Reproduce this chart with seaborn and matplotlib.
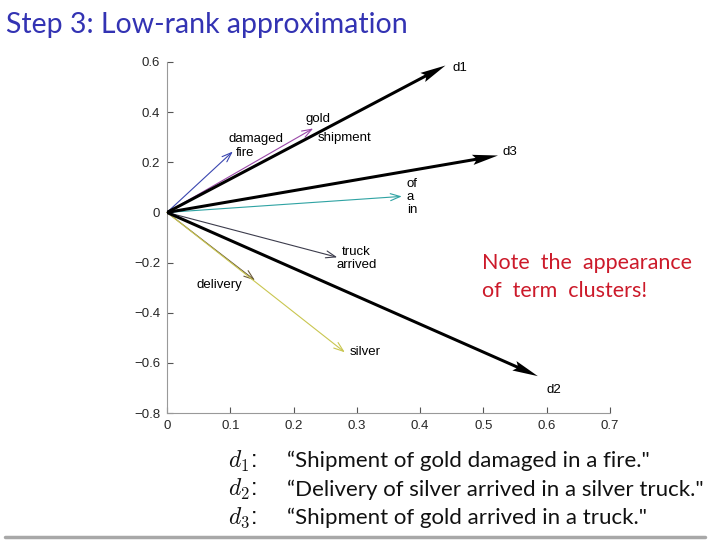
"""
Low-rank approximation (LSI) - documents and terms in 2-D concept space.
"""
import matplotlib
matplotlib.use("Agg")
import matplotlib.pyplot as plt
import matplotlib.ticker as mticker
from matplotlib.lines import Line2D
import seaborn as sns

sns.set_theme(style="white")
plt.rcParams["font.family"] = ["Liberation Sans", "DejaVu Sans"]
plt.rcParams["mathtext.fontset"] = "cm"

# ── Data ─────────────────────────────────────────────────────
doc_names = ["d1", "d2", "d3"]
doc_x = [0.440, 0.586, 0.523]
doc_y = [0.586, -0.653, 0.227]

term_groups = ["damaged/fire", "gold/shipment", "of/a/in",
               "truck/arrived", "delivery", "silver"]
term_x = [0.104, 0.231, 0.371, 0.269, 0.139, 0.281]
term_y = [0.243, 0.335, 0.064, -0.179, -0.271, -0.558]

x_ticks = [0, 0.1, 0.2, 0.3, 0.4, 0.5, 0.6, 0.7]
y_ticks = [0.6, 0.4, 0.2, 0, -0.2, -0.4, -0.6, -0.8]

doc_texts = ["“Shipment of gold damaged in a fire.\"",
             "“Delivery of silver arrived in a silver truck.\"",
             "“Shipment of gold arrived in a truck.\""]

# ── Styles (label placement in offset pixels) ────────────────
term_colors = ["#3a46b0", "#9a48a8", "#2fa3a3", "#3c3c4c", "#6a5a3a", "#c9c650"]
term_labels = [
    [("damaged", (-4, 13), "left"), ("fire", (3, -1), "left")],
    [("gold", (5, 9), "center"), ("shipment", (31, -10), "center")],
    [("of", (5, 12), "left"), ("a", (5, -1), "left"), ("in", (5, -14), "left")],
    [("truck", (19, 5), "center"), ("arrived", (19, -8), "center")],
    [("delivery", (-36, -5), "center")],
    [("silver", (5, 0), "left")],
]
doc_offsets = [(7, -2), (9, -14), (5, 4)]

fig = plt.figure(figsize=(7.2, 5.4), dpi=100)
ax = fig.add_axes([167 / 720, 1 - 413 / 540, 443 / 720, 351 / 540])

# term vectors
for tx, ty, col, labs in zip(term_x, term_y, term_colors, term_labels):
    ax.annotate("", xy=(tx, ty), xytext=(0, 0),
                arrowprops=dict(arrowstyle="->,head_length=0.5,head_width=0.18",
                                color=col, lw=0.8, shrinkA=0, shrinkB=0,
                                mutation_scale=14))
    for word, off, ha in labs:
        ax.annotate(word, xy=(tx, ty), xytext=off, textcoords="offset pixels",
                    ha=ha, va="center", fontsize=9.5, color="black")

# document vectors
ax.quiver([0] * len(doc_x), [0] * len(doc_y), doc_x, doc_y,
          angles="xy", scale_units="xy", scale=1, color="black",
          width=0.0068, headwidth=3.4, headlength=8.5, headaxislength=7.5,
          zorder=3)
for name, dx, dy, off in zip(doc_names, doc_x, doc_y, doc_offsets):
    ax.annotate(name, xy=(dx, dy), xytext=off, textcoords="offset pixels",
                ha="left", va="center", fontsize=9.5, color="black")

ax.set_xlim(0, 0.7)
ax.set_ylim(-0.8, 0.6)
ax.set_xticks(x_ticks)
ax.set_yticks(y_ticks)
fmt = mticker.FuncFormatter(lambda v, _: "0" if abs(v) < 1e-9 else f"{v:g}".replace("-", "\u2212"))
ax.xaxis.set_major_formatter(fmt)
ax.yaxis.set_major_formatter(fmt)
ax.tick_params(direction="in", length=4, width=0.8, color="#555555",
               labelsize=9.5, pad=5, left=True, bottom=True)
sns.despine(ax=ax)
for s in ["left", "bottom"]:
    ax.spines[s].set_color("#999999")
    ax.spines[s].set_linewidth(0.8)
ax.patch.set_alpha(0)

# slide title
fig.text(6 / 720, 1 - 25 / 540, "Step 3: Low-rank approximation",
         fontsize=20.5, color="#3333b3", family="Lato", ha="left", va="center")

# red note
fig.text(482 / 720, 1 - 263 / 540, "Note  the  appearance",
         fontsize=15.5, color="#cc1a2a", family="Lato", ha="left", va="center")
fig.text(482 / 720, 1 - 291 / 540, "of  term  clusters!",
         fontsize=15.5, color="#cc1a2a", family="Lato", ha="left", va="center")

# document sentences
for i, (name, txt) in enumerate(zip(doc_names, doc_texts)):
    yy = 1 - (461 + 28.5 * i) / 540
    fig.text(228 / 720, yy, f"$d_{name[1]}$:", fontsize=17, ha="left",
             va="center", color="#111111")
    fig.text(287 / 720, yy, txt, fontsize=16, family="Lato", ha="left",
             va="center", color="#111111")

fig.add_artist(Line2D([5 / 720, 705 / 720], [3 / 540, 3 / 540],
                      transform=fig.transFigure, color="#a8a8a8", lw=2.5))

fig.savefig("out.png", dpi=100)
